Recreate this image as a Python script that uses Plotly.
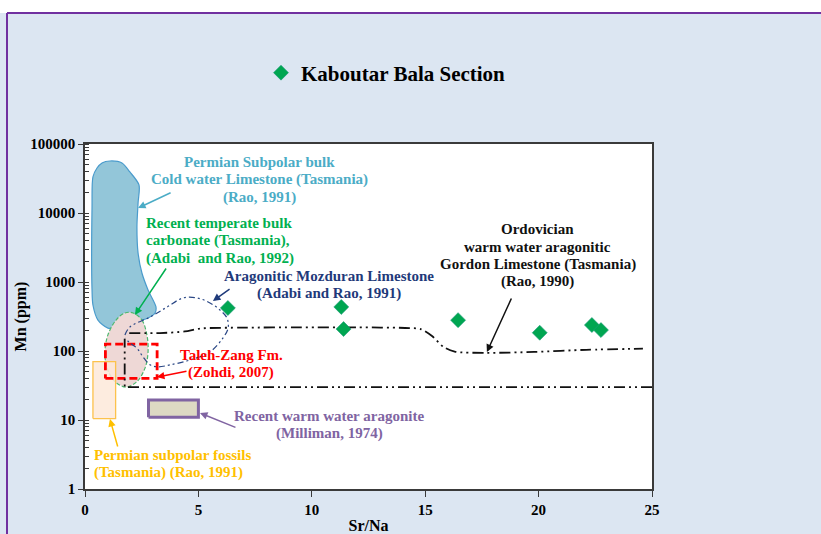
import plotly.graph_objects as go

# ---- Kaboutar Bala Section samples (Sr/Na vs Mn) ----
sample_srna = [6.3, 11.3, 11.4, 16.45, 20.05, 22.35, 22.75]
sample_mn = [420, 435, 208, 280, 184, 238, 201]

# ---- Reference fields ----
# Permian subpolar bulk cold water limestone (Tasmania)
perm_bulk_x = [1.10, 1.63, 1.98, 2.38, 2.34, 2.29, 2.34, 2.51, 2.78, 3.13, 3.09, 2.78,
               2.20, 1.54, 1.01, 0.57, 0.35, 0.31, 0.31, 0.35, 0.53, 0.75, 1.10]
perm_bulk_y = [56750, 53100, 39300, 25500, 13960, 6270, 2630, 1349, 766, 434, 356, 301,
               263, 223, 215, 281, 464, 766, 12220, 33270, 44870, 53100, 56750]

# Recent temperate bulk carbonate (Tasmania)
temperate_x = [2.12, 2.51, 2.73, 2.78, 2.65, 2.29, 1.81, 1.32, 0.97, 0.88, 1.01, 1.37, 1.76, 2.12]
temperate_y = [356, 281, 171, 97, 57, 36, 30, 36, 57, 97, 171, 281, 356, 356]

# Aragonitic Mozduran Limestone
mozduran_x = [1.76, 1.98, 2.87, 3.62, 4.32, 4.94, 5.51, 5.95, 6.26, 6.31, 6.08, 5.51,
              4.63, 3.75, 3.22, 2.87, 2.56, 2.29, 1.98, 1.76]
mozduran_y = [171, 223, 311, 434, 587, 587, 497, 393, 301, 215, 154, 97,
              74, 63, 59, 63, 82, 110, 131, 154]

# Ordovician warm water aragonitic Gordon Limestone (Tasmania)
ordo_low_x = [25.0, 1.75, 1.75]
ordo_low_y = [30, 30, 150]
ordo_up_x = [1.95, 3.3, 4.4, 5.1, 7.0, 9.5, 12.0, 14.3, 14.8, 15.3, 15.8, 16.3, 17.7, 19.8, 22.1, 24.6]
ordo_up_y = [182, 182, 192, 212, 218, 220, 220, 215, 208, 165, 115, 98, 94, 97, 104, 108]

# Rectangular fields: (x0, x1, y0, y1)
taleh_zang = (0.9, 3.18, 40, 126)
perm_fossils = (0.35, 1.35, 10.5, 70)
warm_aragonite = (2.8, 5.0, 11, 19.5)

# Field labels: lines, colour, x, log10(y) of first line, alignment, arrow (tail x, tail log y, head x, head log y)
labels = [
    (["Permian Subpolar bulk", "Cold water Limestone (Tasmania)", "(Rao, 1991)"], "#4bacc6",
     7.69, 4.739, "center", (3.84, 4.304, 2.34, 4.072)),
    (["Recent temperate bulk", "carbonate (Tasmania),", "(Adabi  and Rao, 1992)"], "#00b050",
     2.60, 3.855, "left", (3.62, 3.217, 2.20, 2.522)),
    (["Aragonitic Mozduran Limestone", "(Adabi and Rao, 1991)"], "#1f3a7a",
     10.74, 3.087, "center", (6.44, 2.913, 5.64, 2.725)),
    (["Ordovician", "warm water aragonitic", "Gordon Limestone (Tasmania)", "(Rao, 1990)"], "#111111",
     19.97, 3.768, "center", (18.83, 2.783, 17.72, 1.986)),
    (["Taleh-Zang Fm.", "(Zohdi, 2007)"], "#ff0000",
     6.44, 1.942, "center", (4.54, 1.71, 3.17, 1.623)),
    (["Recent warm water aragonite", "(Milliman, 1974)"], "#8064a2",
     10.76, 1.058, "center", (6.70, 0.884, 5.07, 1.101)),
    (["Permian subpolar fossils", "(Tasmania) (Rao, 1991)"], "#ffc000",
     0.31, 0.493, "left", (1.46, 0.594, 1.10, 1.014)),
]

SERIF = "Liberation Serif, Times New Roman, serif"
LINE_STEP = 0.254  # one text line, in decades of the Mn axis


def rect_xy(r):
    x0, x1, y0, y1 = r
    return [x0, x1, x1, x0, x0], [y0, y0, y1, y1, y0]


fig = go.Figure()

fig.add_trace(go.Scatter(
    x=perm_bulk_x, y=perm_bulk_y, mode="lines", fill="toself",
    fillcolor="#93c6d9", line=dict(color="#4a9bcc", width=1.2, shape="spline", smoothing=0.8),
    showlegend=False, hoverinfo="skip"))

fig.add_trace(go.Scatter(
    x=temperate_x, y=temperate_y, mode="lines", fill="toself",
    fillcolor="#eed8d6", line=dict(color="#4cb86e", width=1.2, dash="4px,2px",
                                   shape="spline", smoothing=1.0),
    showlegend=False, hoverinfo="skip"))

px_, py_ = rect_xy(perm_fossils)
fig.add_trace(go.Scatter(
    x=px_, y=py_, mode="lines", fill="toself", fillcolor="rgba(253,233,217,0.85)",
    line=dict(color="#fcc24c", width=1.3), showlegend=False, hoverinfo="skip"))

px_, py_ = rect_xy(warm_aragonite)
fig.add_trace(go.Scatter(
    x=px_, y=py_, mode="lines", fill="toself", fillcolor="#ddd9c3",
    line=dict(color="#8064a2", width=3), showlegend=False, hoverinfo="skip"))

px_, py_ = rect_xy(taleh_zang)
fig.add_trace(go.Scatter(
    x=px_, y=py_, mode="lines",
    line=dict(color="#ff0000", width=2.8, dash="8px,4px"), showlegend=False, hoverinfo="skip"))

fig.add_trace(go.Scatter(
    x=mozduran_x, y=mozduran_y, mode="lines",
    line=dict(color="#2a4785", width=1.2, dash="6px,3px,2px,3px,2px,3px",
              shape="spline", smoothing=1.0),
    showlegend=False, hoverinfo="skip"))

fig.add_trace(go.Scatter(
    x=ordo_low_x, y=ordo_low_y, mode="lines",
    line=dict(color="#111111", width=1.8, dash="11px,4px,2px,4px,2px,4px"),
    showlegend=False, hoverinfo="skip"))

fig.add_trace(go.Scatter(
    x=ordo_up_x, y=ordo_up_y, mode="lines",
    line=dict(color="#111111", width=1.8, dash="11px,4px,2px,4px,2px,4px",
              shape="spline", smoothing=0.8),
    showlegend=False, hoverinfo="skip"))

fig.add_trace(go.Scatter(
    x=sample_srna, y=sample_mn, mode="markers", name="<b>Kaboutar Bala Section</b>",
    marker=dict(symbol="diamond", size=11.5, color="#00a651", line=dict(color="#1b9a78", width=0.6)),
    hoverinfo="x+y"))

annotations = []
for lines, color, tx, ty, align, (ax, ay, hx, hy) in labels:
    for i, line in enumerate(lines):
        annotations.append(dict(
            x=tx, y=ty - i * LINE_STEP, xref="x", yref="y", text="<b>" + line + "</b>",
            showarrow=False, xanchor="left" if align == "left" else "center", yanchor="middle",
            font=dict(family=SERIF, size=15, color=color)))
    annotations.append(dict(
        x=hx, y=hy, ax=ax, ay=ay, xref="x", yref="y", axref="x", ayref="y",
        text="", showarrow=True, arrowhead=2, arrowsize=1, arrowwidth=1.5,
        arrowcolor=color, standoff=0))

# ---- Frame decorations (paper coordinates relative to plot area) ----
L, R, T, B, W, H = 85, 652, 144, 489, 821, 534


def xp(p):
    return (p - L) / (R - L)


def yp(p):
    return (B - p) / (B - T)


shapes = [
    dict(type="rect", xref="paper", yref="paper", x0=xp(0), x1=xp(W), y0=yp(13), y1=yp(0) + 0.05,
         fillcolor="white", line=dict(width=0), layer="above"),
    dict(type="line", xref="paper", yref="paper", x0=xp(7), x1=xp(W), y0=yp(13), y1=yp(13),
         line=dict(color="#7030a0", width=2)),
    dict(type="line", xref="paper", yref="paper", x0=xp(7), x1=xp(7), y0=yp(13), y1=yp(H + 5),
         line=dict(color="#7030a0", width=2)),
]

axis_font = dict(family=SERIF, size=15, color="#000000")

fig.update_layout(
    width=W, height=H,
    margin=dict(l=L, r=W - R, t=T, b=H - B, autoexpand=False),
    paper_bgcolor="#dce6f2", plot_bgcolor="#ffffff",
    showlegend=True,
    legend=dict(x=xp(261), y=yp(73), xanchor="left", yanchor="middle",
                bgcolor="rgba(0,0,0,0)", font=dict(family=SERIF, size=21, color="#000000")),
    annotations=annotations,
    shapes=shapes,
    xaxis=dict(range=[0, 25], dtick=5, tick0=0, showgrid=False, zeroline=False, automargin=False,
               showline=True, linecolor="#3a3a3a", linewidth=1.5, mirror=True,
               ticks="outside", ticklen=6, tickcolor="#3a3a3a",
               tickfont=axis_font, tickprefix="<b>", ticksuffix="</b>",
               title=dict(text="<b>Sr/Na</b>", font=dict(family=SERIF, size=16, color="#000000"),
                          standoff=3)),
    yaxis=dict(type="log", range=[0, 5], dtick=1, showgrid=False, zeroline=False, automargin=False,
               showline=True, linecolor="#3a3a3a", linewidth=1.5, mirror=True,
               ticks="outside", ticklen=5, tickcolor="#3a3a3a",
               tickfont=axis_font, tickprefix="<b>", ticksuffix="</b>",
               tickformat="d",
               minor=dict(ticks="inside", ticklen=4, tickcolor="#3a3a3a", dtick="D1", showgrid=False),
               title=dict(text="<b>Mn (ppm)</b>", font=dict(family=SERIF, size=16, color="#000000"),
                          standoff=0)),
)

fig.write_html("out.html")
